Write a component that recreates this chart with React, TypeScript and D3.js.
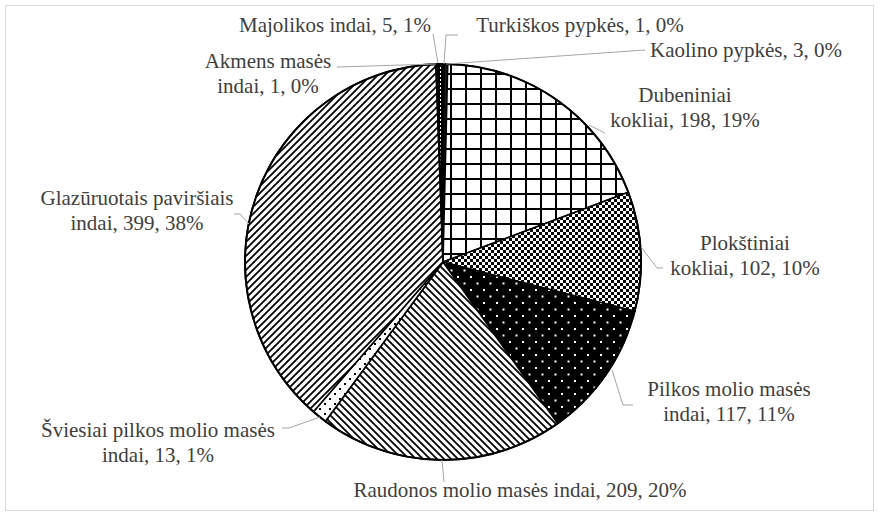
import React from "react";
import * as d3 from "d3";

const categories = [
  "Turkiškos pypkės",
  "Kaolino pypkės",
  "Dubeniniai kokliai",
  "Plokštiniai kokliai",
  "Pilkos molio masės indai",
  "Raudonos molio masės indai",
  "Šviesiai pilkos molio masės indai",
  "Glazūruotais paviršiais indai",
  "Akmens masės indai",
  "Majolikos indai",
];
const values = [1, 3, 198, 102, 117, 209, 13, 399, 1, 5];
const percents = ["0%", "0%", "19%", "10%", "11%", "20%", "1%", "38%", "0%", "1%"];

// layout: how many words of the category go on the first line (0 = single line), label centre, first baseline, leader polyline
const layout = [
  { words: 0, cx: 580, y: 32, leader: [[444, 64], [446, 35], [458, 35]] },
  { words: 0, cx: 746, y: 57, leader: [[446, 64], [645, 50]] },
  { words: 1, cx: 685, y: 102, leader: [[589, 125], [605, 133]] },
  { words: 1, cx: 745, y: 250, leader: [[641, 247], [657, 268], [663, 268]] },
  { words: 3, cx: 729, y: 396, leader: [[612, 370], [623, 405], [633, 405]] },
  { words: 0, cx: 520, y: 497, leader: [[442, 460], [444, 482]] },
  { words: 4, cx: 158, y: 437, leader: [[320, 417], [289, 428], [282, 428]] },
  { words: 2, cx: 137, y: 205, leader: [[249, 224], [240, 214], [234, 214]] },
  { words: 2, cx: 268, y: 68, leader: [[337, 67], [436, 64]] },
  { words: 0, cx: 335, y: 32, leader: [[433, 34], [438, 63]] },
];

const fills = [
  "#8c6d1f",
  "#1a1a1a",
  "url(#pGrid)",
  "url(#pCheck)",
  "url(#pDarkDots)",
  "url(#pBack)",
  "url(#pLightDots)",
  "url(#pFwd)",
  "#111",
  "url(#pDash)",
];

const W = 879;
const H = 517;
const CX = 443;
const CY = 262;
const R = 198;

export default function App() {
  const pie = d3
    .pie<number>()
    .sort(null)
    .value((d) => d)
    .startAngle(0)
    .endAngle(2 * Math.PI);
  const arcs = pie(values);
  const arc = d3.arc<d3.PieArcDatum<number>>().innerRadius(0).outerRadius(R);
  const line = d3.line();

  const labels = categories.map((c, i) => {
    const full = `${c}, ${values[i]}, ${percents[i]}`;
    const w = layout[i].words;
    if (!w) return [full];
    const parts = full.split(" ");
    return [parts.slice(0, w).join(" "), parts.slice(w).join(" ")];
  });

  return (
    <svg
      width={W}
      height={H}
      style={{ position: "absolute", left: 0, top: 0, background: "#fff" }}
    >
      <defs>
        <pattern id="pGrid" width="15" height="15" patternUnits="userSpaceOnUse" x={CX - 1} y={CY - 1}>
          <rect width="15" height="15" fill="#fff" />
          <path d="M0 1 H15 M1 0 V15" stroke="#000" strokeWidth="2" />
        </pattern>
        <pattern id="pCheck" width="6" height="6" patternUnits="userSpaceOnUse">
          <rect width="6" height="6" fill="#fff" />
          <rect width="3" height="3" fill="#000" />
          <rect x="3" y="3" width="3" height="3" fill="#000" />
        </pattern>
        <pattern id="pDarkDots" width="13" height="13" patternUnits="userSpaceOnUse">
          <rect width="13" height="13" fill="#000" />
          <rect x="1" y="1" width="2" height="2" fill="#fff" />
          <rect x="7.5" y="7.5" width="2" height="2" fill="#fff" />
        </pattern>
        <pattern id="pLightDots" width="10" height="10" patternUnits="userSpaceOnUse">
          <rect width="10" height="10" fill="#fff" />
          <rect x="1" y="1" width="2" height="2" fill="#000" />
          <rect x="6" y="6" width="2" height="2" fill="#000" />
        </pattern>
        <pattern id="pBack" width="7" height="7" patternUnits="userSpaceOnUse">
          <rect width="7" height="7" fill="#fff" />
          <path d="M-2 -2 L9 9 M-2 5 L2 9 M5 -2 L9 2" stroke="#000" strokeWidth="1.8" />
        </pattern>
        <pattern id="pFwd" width="7" height="7" patternUnits="userSpaceOnUse">
          <rect width="7" height="7" fill="#fff" />
          <path d="M-2 9 L9 -2 M-2 2 L2 -2 M5 9 L9 5" stroke="#000" strokeWidth="1.8" />
        </pattern>
        <pattern id="pDash" width="4" height="4" patternUnits="userSpaceOnUse">
          <rect width="4" height="4" fill="#000" />
          <rect x="1" y="1" width="1" height="2" fill="#fff" />
        </pattern>
      </defs>
      <rect x={5.5} y={5.5} width={868} height={505} fill="#fff" stroke="#d9d9d9" strokeWidth={1} />
      <g transform={`translate(${CX},${CY})`}>
        {arcs.map((a, i) => (
          <path key={i} d={arc(a) || ""} fill={fills[i]} stroke="#000" strokeWidth={1.6} strokeLinejoin="round" />
        ))}
        <circle r={R} fill="none" stroke="#000" strokeWidth={2} />
      </g>
      {layout.map((l, i) => (
        <path
          key={"l" + i}
          d={line(l.leader as [number, number][]) || ""}
          fill="none"
          stroke="#a6a6a6"
          strokeWidth={1}
        />
      ))}
      {labels.map((lines, i) => (
        <text
          key={"t" + i}
          textAnchor="middle"
          fontFamily="'Liberation Serif', 'Times New Roman', serif"
          fontSize={21}
          fill="#404040"
        >
          {lines.map((s, j) => (
            <tspan key={j} x={layout[i].cx} y={layout[i].y + j * 25}>
              {s}
            </tspan>
          ))}
        </text>
      ))}
    </svg>
  );
}
